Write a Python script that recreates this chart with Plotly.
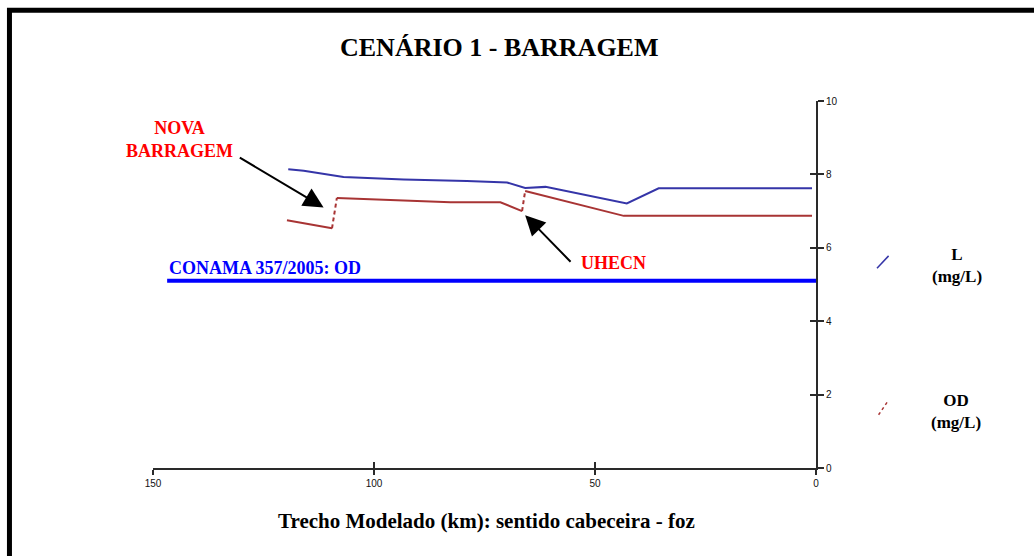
import plotly.graph_objects as go

# Distância ao longo do trecho modelado (km) e concentrações (mg/L)
km_L = [119.4, 115.9, 106.9, 93.3, 79.0, 69.9, 65.8, 61.2, 42.8, 35.6, 0.9]
L_mgL = [8.14, 8.10, 7.93, 7.86, 7.82, 7.78, 7.63, 7.66, 7.21, 7.62, 7.62]

km_OD = [119.7, 109.5, 108.4, 94.8, 82.7, 71.4, 66.5, 65.8, 43.5, 0.9]
OD_mgL = [6.75, 6.53, 7.36, 7.30, 7.24, 7.24, 7.00, 7.55, 6.87, 6.87]
# índices onde o perfil de OD salta (barramentos) – trechos tracejados
od_jumps = [1, 6]

km_conama = [146.8, 0.0]
od_conama = [5.1, 5.1]

x_ticks = [150, 100, 50, 0]
y_ticks = [0, 2, 4, 6, 8, 10]

C_L = "#3535a8"
C_OD = "#a83434"
SERIF = "Liberation Serif, Times New Roman, serif"
SANS = "Liberation Sans, Arial, sans-serif"

fig = go.Figure()

# Padrão CONAMA (eixos sobrepostos x2/y2, com a mesma escala de x/y)
fig.add_trace(go.Scatter(x=km_conama, y=od_conama, mode="lines", xaxis="x2", yaxis="y2",
                         line=dict(color="#0000ff", width=4), hoverinfo="skip"))

# L
fig.add_trace(go.Scatter(x=km_L, y=L_mgL, mode="lines",
                         line=dict(color=C_L, width=2)))

# OD: trechos contínuos separados pelos saltos
xs, ys = [], []
for i in range(len(km_OD)):
    xs.append(km_OD[i]); ys.append(OD_mgL[i])
    if i in od_jumps:
        xs.append(None); ys.append(None)
fig.add_trace(go.Scatter(x=xs, y=ys, mode="lines",
                         line=dict(color=C_OD, width=2), connectgaps=False))
for i in od_jumps:
    fig.add_trace(go.Scatter(x=[km_OD[i], km_OD[i + 1]], y=[OD_mgL[i], OD_mgL[i + 1]],
                             mode="lines", line=dict(color=C_OD, width=2, dash="4px,3px")))

axis_col = "#2a2a2a"
fig.update_layout(
    width=1034, height=556,
    margin=dict(l=153, r=218, t=101, b=88),
    paper_bgcolor="white", plot_bgcolor="white",
    showlegend=False,
    xaxis=dict(range=[150, 0], tickvals=x_ticks, ticktext=[str(v) for v in x_ticks],
               ticks="outside", ticklen=5, tickwidth=1.5, tickcolor=axis_col,
               showline=True, linecolor=axis_col, linewidth=2,
               showgrid=False, zeroline=False,
               tickfont=dict(family=SANS, size=10, color="#111")),
    xaxis2=dict(range=[150, 0], tickvals=x_ticks, overlaying="x", anchor="y2", side="bottom",
                ticks="inside", ticklen=6, tickwidth=1.5, tickcolor=axis_col,
                showticklabels=False, showline=False, showgrid=False, zeroline=False),
    yaxis=dict(range=[0, 10], tickvals=y_ticks, side="right",
               ticks="outside", ticklen=6, tickwidth=1.5, tickcolor=axis_col,
               showline=True, linecolor=axis_col, linewidth=2,
               showgrid=False, zeroline=False,
               tickfont=dict(family=SANS, size=10, color="#111")),
    yaxis2=dict(range=[0, 10], tickvals=y_ticks, overlaying="y", side="right", anchor="x2",
                ticks="inside", ticklen=6, tickwidth=1.5, tickcolor=axis_col,
                showticklabels=False, showline=False, showgrid=False, zeroline=False),
)

# Moldura
fig.add_shape(type="rect", xref="paper", yref="paper",
              x0=-0.2165, y0=-0.3, x1=1.36, y1=1.2475,
              line=dict(color="black", width=5), fillcolor="rgba(0,0,0,0)")

# Amostras da legenda
fig.add_shape(type="line", xref="paper", yref="paper",
              x0=1.092, y0=0.544, x1=1.1095, y1=0.578,
              line=dict(color=C_L, width=1.5))
fig.add_shape(type="line", xref="paper", yref="paper",
              x0=1.0944, y0=0.145, x1=1.108, y1=0.181,
              line=dict(color=C_OD, width=1.5, dash="3px,3px"))

def label(text, x, y, size, color, xanchor="center"):
    fig.add_annotation(text=text, x=x, y=y, xref="paper", yref="paper",
                       showarrow=False, xanchor=xanchor, yanchor="middle",
                       font=dict(family=SERIF, size=size, color=color))

label("<b>CENÁRIO 1 - BARRAGEM</b>", 0.523, 1.146, 26, "black")
label("<b>Trecho Modelado (km): sentido cabeceira - foz</b>", 0.5034, -0.1434, 21, "black")
label("<b>L<br>(mg/L)</b>", 1.2127, 0.5517, 17, "black")
label("<b>OD<br>(mg/L)</b>", 1.2117, 0.1553, 17, "black")
label("<b>NOVA<br>BARRAGEM</b>", 0.0397, 0.8958, 18, "#ff0000")
label("<b>UHECN</b>", 0.6943, 0.5585, 18, "#ff0000")
label("<b>CONAMA 357/2005: OD</b>", 0.0211, 0.545, 18, "#0000ff", xanchor="left")

# Setas indicando os barramentos
for tip, tail in [((111.4, 7.10), (130.7, 8.48)), ((65.8, 6.89), (55.2, 5.58))]:
    fig.add_annotation(x=tip[0], y=tip[1], ax=tail[0], ay=tail[1],
                       xref="x", yref="y", axref="x", ayref="y", text="",
                       showarrow=True, arrowhead=2, arrowsize=2, arrowwidth=2,
                       arrowcolor="black", standoff=0)

fig.write_html("out.html")
